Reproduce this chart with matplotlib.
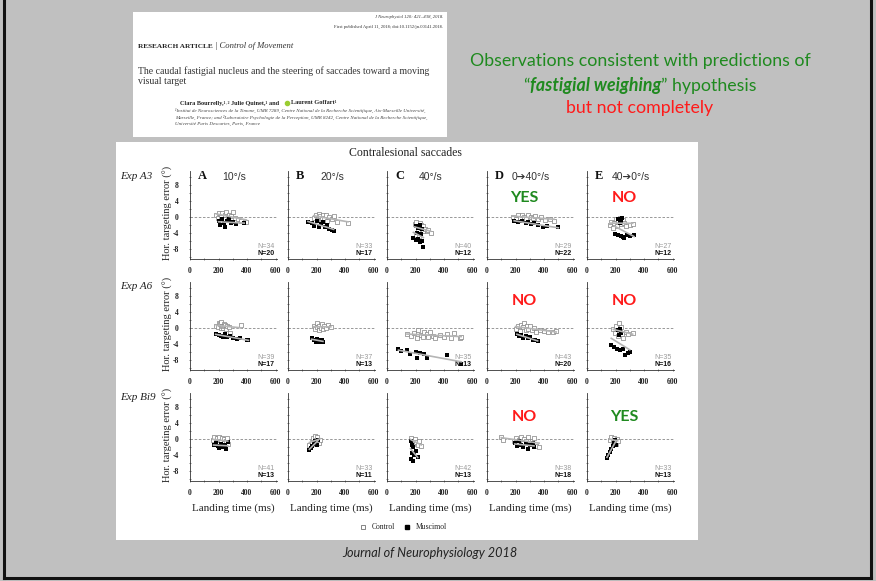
import numpy as np
import matplotlib.pyplot as plt
from matplotlib.patches import Rectangle
from matplotlib.lines import Line2D

W, H = 876, 581

# ---- data: (landing time ms, horizontal error deg) ----
a3_A_ctrl = [(185,0.4),(195,-0.2),(205,1.1),(215,0.3),(225,0.9),(235,-0.4),(245,0.5),(255,1.2),(265,-0.1),(275,0.6),(290,0.2),(300,1.3),(315,-0.3),(335,-0.6),(360,-0.9),(395,-1.2)]
a3_A_musc = [(200,-0.9),(212,-1.9),(225,-0.4),(238,-1.4),(248,-2.4),(258,-0.9),(270,-0.6),(285,-1.5),(300,-1.3),(320,-1.8),(380,-1.4)]
a3_B_ctrl = [(180,-0.3),(195,0.5),(205,-0.8),(215,0.8),(225,0.2),(235,-0.5),(245,0.6),(255,-0.2),(265,0.4),(275,-1.0),(290,0.1),(305,-0.6),(320,0.3),(345,-1.2),(420,-1.6)]
a3_B_musc = [(140,-1.3),(165,-1.6),(185,-2.2),(200,-1.0),(215,-2.5),(230,-1.8),(245,-1.2),(260,-2.6),(275,-2.0),(290,-2.9),(310,-3.3),(320,-3.6)]
a3_C_ctrl = [(195,-1.8),(205,-1.3),(215,-2.5),(220,-3.2),(230,-1.5),(235,-2.8),(240,-2.0),(250,-3.5),(255,-2.2),(265,-3.0),(280,-3.6),(290,-3.3),(305,-4.0),(200,-4.5),(225,-4.8)]
a3_C_musc = [(200,-2.2),(215,-2.8),(230,-2.0),(245,-3.0),(185,-5.2),(200,-5.8),(215,-5.5),(230,-6.2),(245,-6.0),(255,-7.5),(210,-4.0),(240,-4.3)]
a3_D_ctrl = [(180,0.0),(200,-0.4),(215,0.4),(230,-0.2),(245,0.5),(260,0.1),(275,-0.5),(290,0.6),(305,0.0),(320,-0.3),(340,0.3),(360,-0.6),(380,0.0),(410,-0.7),(440,-0.4),(470,-0.9)]
a3_D_musc = [(190,-0.9),(220,-1.3),(245,-1.0),(270,-1.5),(290,-1.2),(310,-1.8),(330,-1.4),(360,-2.1),(390,-2.6),(420,-2.3),(500,-2.4)]
a3_E_ctrl = [(160,-2.0),(170,-1.2),(180,-2.8),(190,-1.6),(200,-0.6),(210,-2.2),(220,-1.0),(230,-0.3),(240,-1.8),(250,-0.8),(260,-1.4),(275,-2.3),(300,-2.0),(320,-1.7)]
a3_E_musc = [(220,-0.4),(235,-0.9),(245,-0.2),(230,-1.5),(195,-4.2),(215,-4.5),(240,-4.8),(260,-5.3),(280,-4.6),(330,-4.5),(255,-4.9),(300,-4.7)]

a6_A_ctrl = [(185,0.6),(195,0.2),(200,1.2),(210,0.9),(215,0.0),(220,1.5),(225,0.5),(230,0.1),(235,1.0),(240,0.4),(245,0.8),(250,-0.2),(260,0.6),(270,0.3),(280,-1.2),(360,0.7)]
a6_A_musc = [(180,-1.4),(200,-1.7),(215,-1.9),(230,-2.2),(245,-1.6),(260,-2.3),(280,-2.1),(300,-2.6),(330,-2.8),(350,-2.5),(400,-3.1),(410,-2.9)]
a6_B_ctrl = [(180,0.4),(190,-0.2),(200,1.3),(205,0.3),(215,-0.4),(220,0.6),(230,0.0),(235,0.9),(245,-0.3),(255,0.4),(265,0.1),(280,0.7),(300,0.2)]
a6_B_musc = [(165,-2.5),(180,-3.0),(195,-3.4),(205,-2.8),(215,-3.6),(225,-3.1),(240,-2.9),(245,-3.5)]
a6_C_ctrl = [(140,-1.5),(170,-2.0),(190,-1.3),(210,-2.4),(220,-0.6),(235,-1.8),(250,-2.2),(260,-1.0),(280,-1.6),(290,-2.3),(300,-0.9),(320,-2.1),(340,-2.5),(370,-1.8),(400,-2.3),(420,-1.5),(450,-2.6),(470,-1.2),(510,-2.4),(520,-2.2)]
a6_C_musc = [(80,-5.2),(100,-5.7),(140,-5.5),(160,-6.6),(200,-6.1),(210,-7.4),(230,-6.2),(260,-6.5),(280,-7.4),(420,-6.8),(520,-8.9)]
a6_D_ctrl = [(200,-0.3),(215,0.5),(230,-0.8),(240,0.8),(250,0.2),(260,1.2),(270,-0.5),(280,0.4),(290,-0.2),(300,0.6),(315,-0.6),(330,0.1),(345,-0.9),(370,-0.4),(400,-0.8),(430,-1.0),(460,-0.9),(485,-0.8)]
a6_D_musc = [(210,-1.4),(225,-2.0),(240,-1.7),(255,-2.4),(270,-2.1),(285,-2.6),(300,-2.3),(320,-2.9),(340,-3.0),(355,-3.3)]
a6_E_ctrl = [(185,-0.3),(195,-1.2),(205,0.4),(215,-2.0),(225,1.2),(230,-0.6),(240,0.2),(245,-1.5),(255,-2.6),(270,-1.0),(290,-1.4),(320,-1.2)]
a6_E_musc = [(215,-0.6),(230,-0.2),(240,-1.3),(225,-1.8),(170,-4.3),(190,-4.8),(210,-5.3),(230,-5.6),(250,-5.2),(265,-6.7),(285,-6.2),(300,-6.0)]

bi9_A_ctrl = [(160,-0.3),(170,0.4),(180,-0.8),(190,0.2),(200,-1.2),(205,0.5),(215,-0.5),(225,0.3),(235,-1.0),(240,0.0),(250,-0.6),(260,0.2),(265,-1.3)]
bi9_A_musc = [(165,-1.5),(180,-0.9),(195,-1.8),(205,-2.2),(215,-1.3),(230,-2.0),(245,-1.6),(255,-2.4),(265,-0.8)]
bi9_B_ctrl = [(150,-1.5),(165,-0.8),(175,0.2),(185,-1.2),(190,0.8),(200,-0.3),(205,0.5),(215,-0.9),(225,-0.2)]
bi9_B_musc = [(150,-2.8),(160,-2.2),(170,-1.8),(180,-1.2),(190,-0.6),(200,-1.5),(210,-0.3)]
bi9_C_ctrl = [(165,0.2),(175,-0.5),(185,-1.2),(195,0.0),(205,-0.8),(215,-1.6),(225,-0.4),(240,-1.8)]
bi9_C_musc = [(165,-0.6),(175,-1.4),(185,-2.1),(175,-3.4),(190,-4.0),(170,-4.9),(185,-5.5),(215,-4.6),(200,-3.0)]
bi9_D_ctrl = [(100,0.6),(115,-0.2),(190,-0.5),(205,0.3),(215,-1.3),(225,-0.3),(235,0.4),(250,-0.9),(260,0.0),(275,-0.6),(290,0.4),(300,-1.2),(315,-0.4),(330,0.2),(345,-1.7),(365,-1.9)]
bi9_D_musc = [(195,-1.0),(210,-1.8),(225,-0.6),(240,-1.4),(255,-2.1),(270,-1.0),(285,-2.6),(300,-1.6),(320,-0.9),(330,-1.9)]
bi9_E_ctrl = [(160,-0.2),(170,0.5),(180,-0.8),(190,0.3),(200,-1.3),(210,0.1),(215,-0.5)]
bi9_E_musc = [(140,-4.8),(150,-4.0),(160,-3.3),(170,-2.6),(180,-1.8),(190,-1.0),(195,-0.3),(205,-1.4)]

row_names = ['Exp A3', 'Exp A6', 'Exp Bi9']
col_letters = ['A', 'B', 'C', 'D', 'E']
col_speeds = ['10°/s', '20°/s', '40°/s', '0➔40°/s', '40➔0°/s']
n_ctrl = [[34, 33, 40, 29, 27], [39, 37, 35, 43, 35], [41, 33, 42, 38, 33]]
n_musc = [[20, 17, 12, 22, 12], [17, 13, 13, 20, 16], [13, 11, 13, 18, 13]]
verdicts = {(0, 3): 'YES', (0, 4): 'NO', (1, 3): 'NO', (1, 4): 'NO', (2, 3): 'NO', (2, 4): 'YES'}

panels = [
    [(a3_A_ctrl, a3_A_musc), (a3_B_ctrl, a3_B_musc), (a3_C_ctrl, a3_C_musc), (a3_D_ctrl, a3_D_musc), (a3_E_ctrl, a3_E_musc)],
    [(a6_A_ctrl, a6_A_musc), (a6_B_ctrl, a6_B_musc), (a6_C_ctrl, a6_C_musc), (a6_D_ctrl, a6_D_musc), (a6_E_ctrl, a6_E_musc)],
    [(bi9_A_ctrl, bi9_A_musc), (bi9_B_ctrl, bi9_B_musc), (bi9_C_ctrl, bi9_C_musc), (bi9_D_ctrl, bi9_D_musc), (bi9_E_ctrl, bi9_E_musc)],
]

SERIF = 'Liberation Serif'
SANS = 'Lato'
GREEN = '#1f8a1f'
RED = '#ff1a1a'


def fx(x):
    return x / W


def fy(y):
    return 1 - y / H


fig = plt.figure(figsize=(W / 100, H / 100), dpi=100)
fig.patch.set_facecolor('#c0c0c0')

# slide frame
for xs, ys in [([4, 4], [0, 578]), ([4, 871], [578, 578]), ([871, 871], [0, 578])]:
    fig.add_artist(Line2D([fx(v) for v in xs], [fy(v) for v in ys], color='#111111', lw=2.2))

# paper header (white box)
fig.add_artist(Rectangle((fx(133), fy(137)), fx(447) - fx(133), fy(12) - fy(137), color='white', lw=0, zorder=-5))
fig.text(fx(443), fy(17), 'J Neurophysiol 120: 421–438, 2018.', fontsize=3.3, family=SERIF,
         style='italic', ha='right', va='center', color='#333')
fig.text(fx(443), fy(26.5), 'First published April 11, 2018; doi:10.1152/jn.00141.2018.', fontsize=3.3,
         family=SERIF, ha='right', va='center', color='#333')
fig.text(fx(138), fy(46.5), 'RESEARCH ARTICLE', fontsize=5.2, family=SERIF, weight='bold', va='center', color='#222')
fig.text(fx(215), fy(46.5), '| Control of Movement', fontsize=6.2, family=SERIF, style='italic', va='center', color='#333')
fig.text(fx(138), fy(71.5), 'The caudal fastigial nucleus and the steering of saccades toward a moving',
         fontsize=7.0, family=SERIF, va='center', color='#333')
fig.text(fx(138), fy(81.5), 'visual target', fontsize=7.0, family=SERIF, va='center', color='#333')
fig.text(fx(180), fy(103), 'Clara Bourrelly,¹˒² Julie Quinet,¹ and', fontsize=4.5,
         family=SERIF, weight='bold', va='center', color='#222')
fig.add_artist(Line2D([fx(287)], [fy(103)], marker='o', ms=3, color='#9acd32', lw=0))
fig.text(fx(291), fy(103), 'Laurent Goffart¹', fontsize=4.5, family=SERIF, weight='bold', va='center', color='#222')
aff = ['¹Institut de Neurosciences de la Timone, UMR 7289, Centre National de la Recherche Scientifique, Aix-Marseille Université,',
       'Marseille, France; and ²Laboratoire Psychologie de la Perception, UMR 8242, Centre National de la Recherche Scientifique,',
       'Université Paris Descartes, Paris, France']
for i, line in enumerate(aff):
    fig.text(fx(175), fy(110 + 7 * i), line, fontsize=3.6, family=SERIF, style='italic', va='center', color='#444')

# slide comment text
fig.text(fx(640), fy(61), 'Observations consistent with predictions of', fontsize=12.8, family=SANS,
         color=GREEN, ha='center', va='center')
t1 = fig.text(fx(560), fy(94), '“', fontsize=12.8, family=SANS, color=GREEN, va='bottom')
t2 = fig.text(0, 0, 'fastigial weighing', fontsize=12.8, family=SANS, color=GREEN, weight='bold', style='italic',
              va='bottom')
t3 = fig.text(0, 0, '” hypothesis', fontsize=12.8, family=SANS, color=GREEN, va='bottom')
fig.text(fx(640), fy(108), 'but not completely', fontsize=12.8, family=SANS, color=RED, ha='center', va='center')

# white figure panel
fig.add_artist(Rectangle((fx(116), fy(540)), fx(698) - fx(116), fy(142) - fy(540), color='white', lw=0, zorder=-5))
fig.text(fx(405), fy(153), 'Contralesional saccades', fontsize=8.5, family=SERIF, ha='center', va='center',
         color='#222')

col_x0 = [190, 288, 387, 487, 587]
row_zero = [217, 328, 439]
AX_W, AX_H = 87, 88

for r in range(3):
    top = row_zero[r] - 46
    fig.text(fx(120), fy(top + 5), row_names[r], fontsize=8, family=SERIF, style='italic', va='center', color='#222')
    fig.text(fx(168), fy(row_zero[r] - 4), 'Hor. targeting error (°)', fontsize=7.5, family=SERIF, rotation=90,
             ha='center', va='center', color='#222')
    for c in range(5):
        ax = fig.add_axes([fx(col_x0[c]), fy(top + AX_H), AX_W / W, AX_H / H])
        ax.patch.set_alpha(0)
        ax.set_xlim(0, 610)
        ax.set_ylim(-10.5, 11.5)
        for s in ['top', 'right']:
            ax.spines[s].set_visible(False)
        for s in ['left', 'bottom']:
            ax.spines[s].set_linewidth(0.6)
            ax.spines[s].set_color('#333')
        ax.set_xticks([0, 200, 400, 600])
        ax.set_xticks([100, 300, 500], minor=True)
        ax.set_yticks([8, 4, 0, -4, -8])
        ax.set_yticks([10, 6, 2, -2, -6, -10], minor=True)
        ax.tick_params(which='both', direction='inout', length=2, width=0.5, color='#555', pad=5)
        ax.tick_params(which='minor', length=1.2)
        ax.set_xticklabels(['0', '200', '400', '600'], fontsize=5.5, family=SERIF, weight='bold', color='#222')
        if c == 0:
            ax.set_yticklabels(['8', '4', '0', '-4', '-8'], fontsize=5.5, family=SERIF, weight='bold', color='#222')
            ax.tick_params(axis='y', pad=7)
        else:
            ax.set_yticklabels([])
        ax.plot([0, 600], [0, 0], ls=(0, (3, 2)), color='#888', lw=0.6)

        ctrl, musc = panels[r][c]
        cx, cy = np.array(ctrl).T
        mx, my = np.array(musc).T
        ax.scatter(cx, cy, marker='s', s=8, facecolor='white', edgecolor='#808080', lw=0.5, zorder=3)
        ax.scatter(mx, my, marker='s', s=8, color='black', lw=0, zorder=3)
        for xx, yy in [(cx, cy), (mx, my)]:
            k, b = np.polyfit(xx, yy, 1)
            xs = np.array([xx.min(), xx.max()])
            ax.plot(xs, k * xs + b, color='#b5b5b5', lw=1.2, zorder=4)

        ax.text(0.97, 0.14, f'N={n_ctrl[r][c]}', transform=ax.transAxes, fontsize=5, family='Liberation Sans',
                color='#9a9a9a', ha='right', va='center')
        ax.text(0.97, 0.06, f'N={n_musc[r][c]}', transform=ax.transAxes, fontsize=5, family='Liberation Sans',
                weight='bold', color='#111', ha='right', va='center')

        if r == 0:
            fig.text(fx(col_x0[c] + 8), fy(176), col_letters[c], fontsize=9, family=SERIF, weight='bold',
                     ha='left', va='center', color='#111')
            fig.text(fx(col_x0[c] + 44), fy(177), col_speeds[c], fontsize=7.5,
                     family=['Liberation Sans', 'DejaVu Sans'], ha='center', va='center', color='#333')
        if (r, c) in verdicts:
            word = verdicts[(r, c)]
            vy = {0: 198, 1: 301, 2: 417}[r]
            fig.text(fx(col_x0[c] + 37), fy(vy), word, fontsize=11.5, family=SANS, weight='bold',
                     color=GREEN if word == 'YES' else RED, ha='center', va='center')
        if r == 2:
            fig.text(fx(col_x0[c] + 43), fy(508), 'Landing time (ms)', fontsize=8, family=SERIF, ha='center',
                     va='center', color='#222')

# legend
fig.add_artist(Line2D([fx(363)], [fy(527)], marker='s', ms=3, mfc='white', mec='#555', mew=0.5, lw=0))
fig.text(fx(372), fy(527), 'Control', fontsize=5.5, family=SERIF, va='center', color='#222')
fig.add_artist(Line2D([fx(407)], [fy(527)], marker='s', ms=3, color='black', lw=0))
fig.text(fx(416), fy(527), 'Muscimol', fontsize=5.5, family=SERIF, va='center', color='#222')

fig.text(fx(430), fy(553), 'Journal of Neurophysiology 2018', fontsize=9.1, family=SANS, style='italic',
         ha='center', va='center', color='#222')

# place the mixed-style second line of the comment, centred at x=640
fig.canvas.draw()
rend = fig.canvas.get_renderer()
widths = [t.get_window_extent(rend).width for t in (t1, t2, t3)]
x = 640 - sum(widths) / 2
for t, w in zip((t1, t2, t3), widths):
    t.set_position((fx(x), fy(94)))
    x += w

fig.savefig('out.png', dpi=100, facecolor=fig.get_facecolor())
